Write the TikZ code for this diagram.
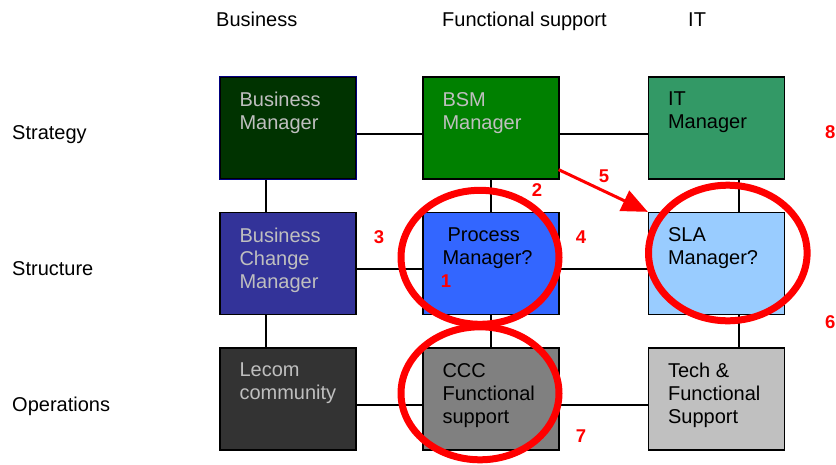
\documentclass[tikz,border=0pt]{standalone}
\usepackage{fontspec}
\setmainfont{Liberation Sans}
\usetikzlibrary{arrows.meta}

% fills of the nine role boxes
\definecolor{bizdark}{HTML}{003300}
\definecolor{bsmgreen}{HTML}{008000}
\definecolor{itgreen}{HTML}{339966}
\definecolor{bizblue}{HTML}{333399}
\definecolor{procblue}{HTML}{3366FF}
\definecolor{slablue}{HTML}{99CCFF}
\definecolor{lecomgray}{HTML}{333333}
\definecolor{cccgray}{HTML}{808080}
\definecolor{techgray}{HTML}{C0C0C0}
\definecolor{lighttext}{HTML}{BFBFBF}
\definecolor{markred}{HTML}{FF0000}
\definecolor{navyedge}{HTML}{000080}

\tikzset{
  rolebox/.style={draw=black, line width=1.3pt, minimum width=136pt,
    minimum height=102pt, inner sep=0pt},
  celltext/.style={anchor=north west, inner sep=0pt, align=left,
    font=\fontsize{20}{23}\selectfont},
  headtext/.style={anchor=base west, inner sep=0pt,
    font=\fontsize{20}{23}\selectfont},
  link/.style={draw=black, line width=1.2pt},
  ring/.style={draw=markred, line width=7pt},
  marknum/.style={inner sep=0pt, text=markred,
    font=\fontsize{18.5}{20}\selectfont\bfseries},
}

% box with its text set from the upper left corner
\newcommand\rolecell[6]{%
  \node[rolebox, fill=#4] (#1) at (#2,#3) {};
  \node[celltext, text=#5] (#1-t) at ([shift={(20pt,-15.5pt)}]#1.north west) {#6};
}

\begin{document}
\begin{tikzpicture}[x=1pt, y=-1pt]
\useasboundingbox (0,0) rectangle (836,464);

% column and row headings
\node[headtext] (hbiz) at (216,26) {Business};
\node[headtext] (hfun) at (442,26) {Functional support};
\node[headtext] (hit)  at (688,26) {IT};
\node[headtext] (rstr) at (12,139) {Strategy};
\node[headtext] (rsct) at (12,275) {Structure};
\node[headtext] (rops) at (12,411) {Operations};

% the grid of roles
\rolecell{bm}{288}{128}{bizdark}{lighttext}{Business\\Manager}
\rolecell{bsm}{491}{128}{bsmgreen}{lighttext}{BSM\\Manager}
\rolecell{itm}{716.5}{128}{itgreen}{black}{IT\\Manager}
\rolecell{bcm}{288}{263.5}{bizblue}{lighttext}{Business\\Change\\Manager}
\rolecell{pm}{491}{263.5}{procblue}{black}{\hspace*{5pt}Process\\Manager?}
\rolecell{sla}{716.5}{263.5}{slablue}{black}{SLA\\Manager?}
\rolecell{lec}{288}{399}{lecomgray}{lighttext}{Lecom\\community}
\rolecell{ccc}{491}{399}{cccgray}{black}{CCC\\Functional\\support}
\rolecell{tech}{716.5}{399}{techgray}{black}{Tech \&\\Functional\\Support}
\draw[draw=navyedge, line width=1.3pt] (bm.north west) rectangle (bm.south east);

% horizontal links
\draw[link] ([yshift=-6pt]bm.east) -- ([yshift=-6pt]bsm.west);
\draw[link] ([yshift=-6pt]bsm.east) -- ([yshift=-6pt]itm.west);
\draw[link] ([yshift=-5.5pt]bcm.east) -- ([yshift=-5.5pt]pm.west);
\draw[link] ([yshift=-5.5pt]pm.east) -- ([yshift=-5.5pt]sla.west);
\draw[link] ([yshift=-6pt]lec.east) -- ([yshift=-6pt]ccc.west);
\draw[link] ([yshift=-6pt]ccc.east) -- ([yshift=-6pt]tech.west);

% vertical links
\draw[link] ([xshift=-22pt]bm.south) -- ([xshift=-22pt]bcm.north);
\draw[link] ([xshift=-22pt]bcm.south) -- ([xshift=-22pt]lec.north);
\draw[link] (bsm.south) -- (pm.north);
\draw[link] (pm.south) -- (ccc.north);
\draw[link] ([xshift=22.5pt]itm.south) -- ([xshift=22.5pt]sla.north);
\draw[link] ([xshift=22.5pt]sla.south) -- ([xshift=22.5pt]tech.north);

% red markings
\draw[ring] (480,257.3) ellipse [x radius=79pt, y radius=67pt];
\draw[ring] (480,393.3) ellipse [x radius=79pt, y radius=66.5pt];
\draw[ring] (727.8,253) ellipse [x radius=79.3pt, y radius=67.8pt];
\draw[draw=markred, line width=3pt,
  -{Triangle[length=26pt, width=22pt]}]
  ([shift={(-1pt,10pt)}]bsm.south east) -- (sla.north west);

\node[marknum] (n1) at (446,281) {1};
\node[marknum] (n2) at (537,190) {2};
\node[marknum] (n3) at (379,237) {3};
\node[marknum] (n4) at (581,237) {4};
\node[marknum] (n5) at (604,176) {5};
\node[marknum, anchor=west] (n6) at (825,322) {6};
\node[marknum] (n7) at (581,436) {7};
\node[marknum, anchor=west] (n8) at (825,132) {8};
\end{tikzpicture}
\end{document}
